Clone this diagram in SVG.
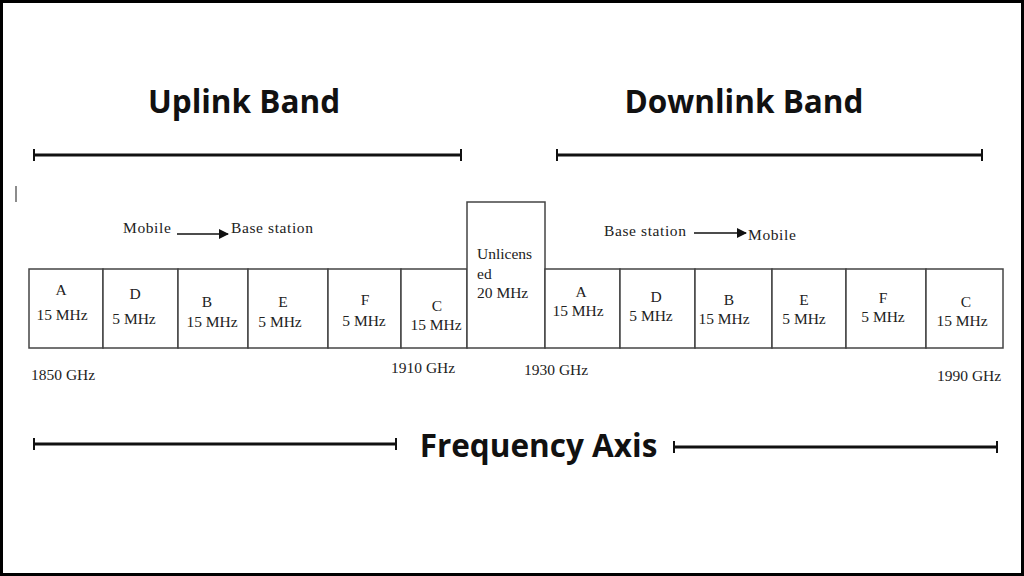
<svg xmlns="http://www.w3.org/2000/svg" width="1024" height="576" viewBox="0 0 1024 576">
<defs>
<style>
.title{font-family:"Open Sans","Liberation Sans",sans-serif;font-weight:bold;font-size:31.5px;fill:#111;text-anchor:middle}
.t{font-family:"Liberation Serif","DejaVu Serif",serif;font-size:15.5px;fill:#222;text-anchor:middle}
.tl{font-family:"Liberation Serif","DejaVu Serif",serif;font-size:15.5px;fill:#222}
.dir{letter-spacing:0.6px}
.box{fill:#fff;stroke:#444;stroke-width:1.5}
.bar{stroke:#111;stroke-width:3;fill:none}
.tick{stroke:#111;stroke-width:2;fill:none}
.arr{stroke:#111;stroke-width:1.6;fill:none}
</style>
<marker id="ah" markerWidth="10" markerHeight="10" refX="9" refY="5" orient="auto" markerUnits="userSpaceOnUse">
<path d="M0,0 L10,5 L0,10 Z" fill="#111"/>
</marker>
</defs>
<rect x="0" y="0" width="1024" height="576" fill="#fff"/>
<rect x="1.5" y="1.5" width="1021" height="573" fill="none" stroke="#000" stroke-width="3"/>

<g id="titles">
<text class="title" x="244" y="113">Uplink Band</text>
<text class="title" x="744" y="113">Downlink Band</text>
<text class="title" x="538.5" y="457" font-size="33">Frequency Axis</text>
</g>

<g id="connectors">
<path class="bar" d="M34,155 H461"/>
<path class="tick" d="M34,149 V161 M461,149 V161"/>
<path class="bar" d="M557,155 H982"/>
<path class="tick" d="M557,149 V161 M982,149 V161"/>
<path class="bar" d="M34,444 H396"/>
<path class="tick" d="M34,438 V450 M396,438 V450"/>
<path class="bar" d="M674,447 H997"/>
<path class="tick" d="M674,441 V453 M997,441 V453"/>
<path class="arr" d="M177,234 H228" marker-end="url(#ah)"/>
<path class="arr" d="M694,233 H746" marker-end="url(#ah)"/>
</g>

<line x1="16" y1="186" x2="16" y2="202" stroke="#666" stroke-width="1.5"/>

<g id="direction-labels">
<text class="tl dir" x="123" y="233">Mobile</text>
<text class="tl dir" x="231" y="233">Base station</text>
<text class="tl dir" x="604" y="236">Base station</text>
<text class="tl dir" x="748" y="240">Mobile</text>
</g>

<g id="up-A"><rect class="box" x="29" y="269" width="74" height="79"/><text class="t" x="61" y="295">A</text><text class="t" x="62" y="320">15 MHz</text></g>
<g id="up-D"><rect class="box" x="103" y="269" width="75" height="79"/><text class="t" x="135" y="299">D</text><text class="t" x="134" y="324">5 MHz</text></g>
<g id="up-B"><rect class="box" x="178" y="269" width="70" height="79"/><text class="t" x="207" y="307">B</text><text class="t" x="212" y="327">15 MHz</text></g>
<g id="up-E"><rect class="box" x="248" y="269" width="80" height="79"/><text class="t" x="283" y="307">E</text><text class="t" x="280" y="327">5 MHz</text></g>
<g id="up-F"><rect class="box" x="328" y="269" width="73" height="79"/><text class="t" x="365" y="305">F</text><text class="t" x="364" y="326">5 MHz</text></g>
<g id="up-C"><rect class="box" x="401" y="269" width="66" height="79"/><text class="t" x="437" y="311">C</text><text class="t" x="436" y="330">15 MHz</text></g>

<g id="unlicensed"><rect class="box" x="467" y="202" width="78" height="146"/><text class="tl" x="477" y="259">Unlicens</text><text class="tl" x="477" y="279">ed</text><text class="tl" x="477" y="298">20 MHz</text></g>

<g id="dn-A"><rect class="box" x="545" y="269" width="75" height="79"/><text class="t" x="581" y="297">A</text><text class="t" x="578" y="316">15 MHz</text></g>
<g id="dn-D"><rect class="box" x="620" y="269" width="75" height="79"/><text class="t" x="656" y="302">D</text><text class="t" x="651" y="321">5 MHz</text></g>
<g id="dn-B"><rect class="box" x="695" y="269" width="77" height="79"/><text class="t" x="729" y="305">B</text><text class="t" x="724" y="324">15 MHz</text></g>
<g id="dn-E"><rect class="box" x="772" y="269" width="74" height="79"/><text class="t" x="804" y="305">E</text><text class="t" x="804" y="324">5 MHz</text></g>
<g id="dn-F"><rect class="box" x="846" y="269" width="80" height="79"/><text class="t" x="883" y="303">F</text><text class="t" x="883" y="322">5 MHz</text></g>
<g id="dn-C"><rect class="box" x="926" y="269" width="77" height="79"/><text class="t" x="966" y="307">C</text><text class="t" x="962" y="326">15 MHz</text></g>

<g id="freq-labels">
<text class="tl" x="31" y="380">1850 GHz</text>
<text class="tl" x="391" y="373">1910 GHz</text>
<text class="tl" x="524" y="375">1930 GHz</text>
<text class="tl" x="937" y="381">1990 GHz</text>
</g>
</svg>
